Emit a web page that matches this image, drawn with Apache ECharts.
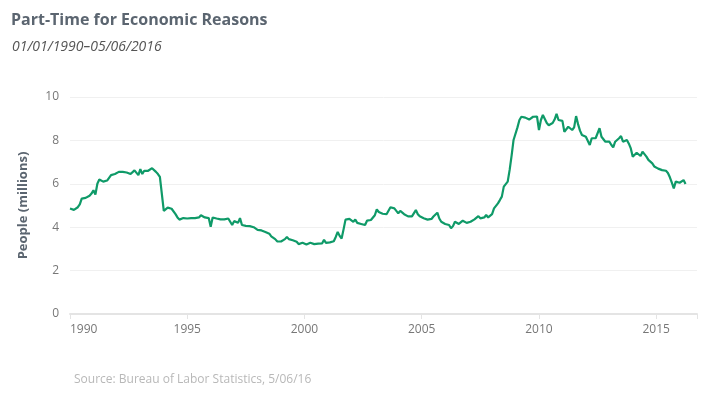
<!DOCTYPE html>
<html><head><meta charset="utf-8">
<script src="https://cdn.jsdelivr.net/npm/echarts@6/dist/echarts.min.js"></script>
<style>html,body{margin:0;padding:0;background:#fff}#c{width:708px;height:393px}</style>
</head><body><div id="c"></div>
<script>
var startYear = 1990;
var yearTicks = [1990, 1995, 2000, 2005, 2010, 2015];
var yTicks = [0, 2, 4, 6, 8, 10];
// Monthly values (millions), Jan 1990 - Apr 2016, one row per year
var v1990 = [4.86,4.78,4.80,4.86,4.92,5.05,5.32,5.30,5.35,5.40,5.45,5.55];
var v1991 = [5.70,5.50,6.00,6.20,6.25,6.10,6.12,6.15,6.20,6.40,6.45,6.45];
var v1992 = [6.50,6.55,6.52,6.55,6.50,6.52,6.48,6.45,6.45,6.62,6.55,6.40];
var v1993 = [6.68,6.45,6.60,6.55,6.60,6.65,6.72,6.68,6.55,6.45,6.32,6.30];
var v1994 = [4.75,4.70,4.90,4.82,4.85,4.87,4.60,4.45,4.35,4.40,4.42,4.48];
var v1995 = [4.40,4.45,4.42,4.48,4.42,4.44,4.45,4.55,4.48,4.45,4.40,4.42];
var v1996 = [4.02,4.45,4.48,4.40,4.38,4.36,4.38,4.36,4.38,4.40,4.41,4.10];
var v1997 = [4.28,4.22,4.20,4.42,4.10,4.08,4.06,4.08,4.05,4.02,4.00,3.95];
var v1998 = [3.88,3.90,3.85,3.80,3.78,3.80,3.70,3.58,3.55,3.45,3.35,3.30];
var v1999 = [3.34,3.38,3.45,3.55,3.45,3.42,3.40,3.35,3.33,3.22,3.18,3.28];
var v2000 = [3.25,3.20,3.26,3.28,3.25,3.22,3.18,3.24,3.20,3.25,3.42,3.28];
var v2001 = [3.30,3.30,3.33,3.35,3.55,3.78,3.60,3.48,3.90,4.35,4.42,4.38];
var v2002 = [4.40,4.25,4.35,4.20,4.28,4.15,4.06,4.10,4.30,4.33,4.33,4.33];
var v2003 = [4.55,4.82,4.70,4.78,4.62,4.65,4.60,4.51,4.92,4.85,4.87,4.80];
var v2004 = [4.64,4.75,4.68,4.60,4.56,4.50,4.49,4.50,4.55,4.79,4.60,4.50];
var v2005 = [4.45,4.41,4.33,4.35,4.40,4.38,4.49,4.45,4.67,4.40,4.25,4.18];
var v2006 = [4.15,4.18,4.10,3.95,4.05,4.25,4.20,4.15,4.20,4.30,4.22,4.20];
var v2007 = [4.25,4.25,4.30,4.36,4.40,4.51,4.41,4.38,4.45,4.56,4.45,4.38];
var v2008 = [4.60,4.87,4.92,5.10,5.25,5.41,5.87,5.90,6.10,6.64,7.30,8.02];
var v2009 = [8.05,8.60,8.94,9.09,9.00,9.05,9.10,8.96,8.94,9.09,9.12,9.10];
var v2010 = [8.48,8.94,9.17,9.10,8.80,8.70,8.63,8.80,8.96,9.22,8.94,8.87];
var v2011 = [8.90,8.40,8.48,8.63,8.55,8.48,8.60,9.12,8.75,8.45,8.25,8.20];
var v2012 = [8.17,8.10,7.79,8.10,8.10,8.10,8.17,8.56,8.17,8.10,7.94,7.94];
var v2013 = [7.94,7.80,7.68,7.94,7.95,8.10,8.20,7.94,7.95,8.02,7.85,7.63];
var v2014 = [7.25,7.30,7.43,7.40,7.28,7.48,7.50,7.25,7.10,7.05,6.94,6.80];
var v2015 = [6.79,6.70,6.71,6.63,6.65,6.60,6.50,6.30,6.05,5.79,6.10,6.05];
var v2016 = [6.05,6.02,6.17,5.99];

var years = [v1990,v1991,v1992,v1993,v1994,v1995,v1996,v1997,v1998,v1999,v2000,v2001,v2002,v2003,v2004,v2005,v2006,v2007,v2008,v2009,v2010,v2011,v2012,v2013,v2014,v2015,v2016];
var data = [];
years.forEach(function (arr, yi) {
  arr.forEach(function (v, m) { data.push([startYear + yi + m / 12, v]); });
});

var chart = echarts.init(document.getElementById('c'));
chart.setOption({
  animation: false,
  title: [
    {text: 'Part-Time for Economic Reasons', left: 6, top: 7,
     textStyle: {fontFamily: 'Open Sans', fontWeight: 'bold', fontSize: 16, color: '#5b6570'}},
    {text: '01/01/1990\u201305/06/2016', left: 7, top: 35,
     textStyle: {fontFamily: 'Open Sans', fontStyle: 'italic', fontWeight: 'normal', fontSize: 14, color: '#555'}},
    {text: 'Source: Bureau of Labor Statistics, 5/06/16', left: 69, top: 369,
     textStyle: {fontFamily: 'Open Sans', fontWeight: 'normal', fontSize: 12, color: '#b8b8b8'}}
  ],
  grid: {left: 70, right: 11, top: 97, bottom: 79},
  xAxis: {
    type: 'value', min: 1990, max: 2016.74, interval: 5,
    axisLine: {show: true, lineStyle: {color: '#e4e4e4', width: 2}},
    axisTick: {show: true, length: 5, lineStyle: {color: '#e4e4e4'}},
    splitLine: {show: false},
    axisLabel: {color: '#777', fontFamily: 'Open Sans', fontSize: 12, margin: 10, alignMinLabel: 'left',
      formatter: function (v) { return yearTicks.indexOf(v) >= 0 ? String(v) : ''; }}
  },
  yAxis: {
    type: 'value', min: 0, max: 10, interval: 2,
    name: 'People (millions)', nameLocation: 'middle', nameGap: 40,
    nameTextStyle: {fontFamily: 'Open Sans', fontWeight: 'bold', fontSize: 13, color: '#5b6570'},
    axisLine: {show: false}, axisTick: {show: false},
    splitLine: {lineStyle: {color: '#f0f0f0', width: 1}},
    axisLabel: {color: '#777', fontFamily: 'Open Sans', fontSize: 12, margin: 11,
      formatter: function (v) { return yTicks.indexOf(v) >= 0 ? String(v) : ''; }}
  },
  series: [{
    type: 'line', data: data, showSymbol: false,
    lineStyle: {color: '#0f9a68', width: 2.2}
  }]
});
</script></body></html>
